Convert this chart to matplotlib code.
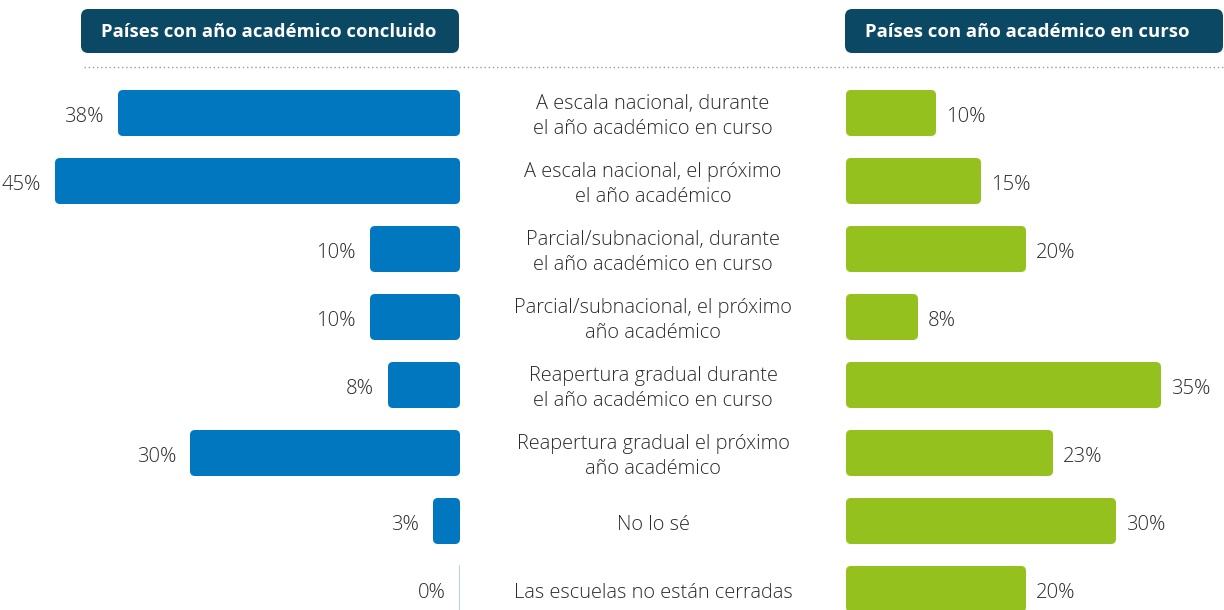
import matplotlib
matplotlib.use("Agg")
import matplotlib.pyplot as plt
from matplotlib.patches import FancyBboxPatch
from matplotlib.lines import Line2D

categories = [
    "A escala nacional, durante\nel año académico en curso",
    "A escala nacional, el próximo\nel año académico",
    "Parcial/subnacional, durante\nel año académico en curso",
    "Parcial/subnacional, el próximo\naño académico",
    "Reapertura gradual durante\nel año académico en curso",
    "Reapertura gradual el próximo\naño académico",
    "No lo sé",
    "Las escuelas no están cerradas",
]
concluded = [38, 45, 10, 10, 8, 30, 3, 0]
ongoing = [10, 15, 20, 8, 35, 23, 30, 20]
title_left = "Países con año académico concluido"
title_right = "Países con año académico en curso"

BLUE = "#0077be"
GREEN = "#95c11f"
HEAD = "#0b4864"
TXT = "#2b2b2b"
FONT = ["Open Sans", "DejaVu Sans"]
plt.rcParams["font.family"] = FONT

W, H = 1224, 610
fig = plt.figure(figsize=(W / 100, H / 100), dpi=100)

PX_PER_PCT = 9.0
ROW_PX = 68.0
Y0_PX = 113.0  # center of first row from top
TOP_PX = 68.0
BOT_PX = 610.0
ytop = -(Y0_PX - TOP_PX) / ROW_PX
ybot = (BOT_PX - Y0_PX) / ROW_PX
BAR_H = 46.0 / ROW_PX
TXT_SHIFT = 3.5  # px downward

def add_axes(x0_px, x1_px):
    ax = fig.add_axes([x0_px / W, 1 - BOT_PX / H, (x1_px - x0_px) / W, (BOT_PX - TOP_PX) / H])
    ax.set_ylim(ybot, ytop)
    ax.axis("off")
    return ax

axL = add_axes(0, 460)
axL.set_xlim(460 / PX_PER_PCT, 0)
axR = add_axes(846, 1224)
axR.set_xlim(0, 378 / PX_PER_PCT)

aspect = PX_PER_PCT / ROW_PX
rs = 5.0 / PX_PER_PCT
LW = "light"

def draw(ax, vals, color, side):
    bars = ax.barh(range(len(vals)), vals, height=BAR_H, color="none")
    for b, v in zip(bars, vals):
        y = b.get_y()
        if v > 0:
            p = FancyBboxPatch((0, y), v, BAR_H,
                               boxstyle=f"round,pad=0,rounding_size={rs}",
                               mutation_aspect=aspect, fc=color, ec="none")
            ax.add_patch(p)
        else:
            ax.plot([0, 0], [y, y + BAR_H], color="#a6cfec", lw=1.3)
        gap = (14 if side == "L" else 10) / PX_PER_PCT
        ax.text(v + gap, y + BAR_H / 2 + TXT_SHIFT / ROW_PX, f"{v}%",
                ha="right" if side == "L" else "left",
                va="center", fontsize=14.6, color=TXT, fontweight=LW)
        b.remove()

draw(axL, concluded, BLUE, "L")
draw(axR, ongoing, GREEN, "R")

for i, c in enumerate(categories):
    fig.text(653 / W, 1 - (Y0_PX + TXT_SHIFT + i * ROW_PX) / H, c, ha="center", va="center",
             fontsize=14.4, color=TXT, linespacing=1.3, fontweight=LW)

for x0, x1, t in [(81, 459, title_left), (845, 1223, title_right)]:
    box = FancyBboxPatch((x0 / W, 1 - 53 / H), (x1 - x0) / W, 44 / H,
                         boxstyle="round,pad=0,rounding_size=0.006",
                         mutation_aspect=W / H, transform=fig.transFigure,
                         fc=HEAD, ec="none")
    fig.patches.append(box)
    fig.text((x0 + 20) / W, 1 - 32 / H, t, ha="left", va="center", fontsize=13.3,
             fontweight="bold", color="white")

fig.lines.append(Line2D([84 / W, 1], [1 - 67 / H, 1 - 67 / H], transform=fig.transFigure,
                        color="#9a9a9a", lw=1, linestyle=(0, (1, 2))))

fig.savefig("out.png", dpi=100)
